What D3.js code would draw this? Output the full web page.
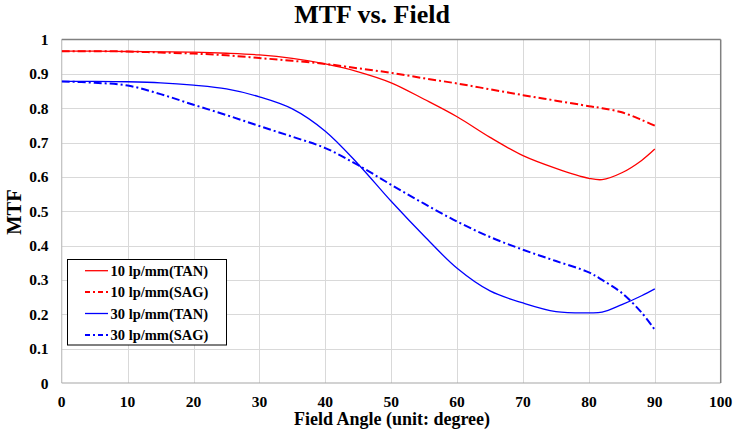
<!DOCTYPE html>
<html>
<head>
<meta charset="utf-8">
<script src="https://cdn.jsdelivr.net/npm/d3@7"></script>
<style>
  html, body { margin: 0; padding: 0; background: #fff; }
  svg { display: block; font-family: "Liberation Serif", "Times New Roman", serif; font-weight: bold; }
</style>
</head>
<body>
<svg id="chart" width="736" height="431"></svg>
<script>
const angles = [0,5,10,15,20,25,30,35,40,45,50,55,60,65,70,75,80,82,85,88,90];
const tan10 = [0.966,0.966,0.965,0.964,0.963,0.960,0.955,0.945,0.929,0.906,0.874,0.826,0.775,0.715,0.662,0.625,0.596,0.592,0.612,0.648,0.681];
const sag10 = [0.966,0.966,0.965,0.962,0.959,0.954,0.946,0.938,0.929,0.916,0.903,0.887,0.872,0.855,0.838,0.822,0.806,0.800,0.788,0.766,0.749];
const tan30 = [0.878,0.878,0.877,0.874,0.867,0.856,0.833,0.798,0.733,0.637,0.529,0.428,0.334,0.268,0.233,0.208,0.204,0.206,0.228,0.254,0.274];
const sag30 = [0.878,0.874,0.866,0.841,0.810,0.780,0.748,0.717,0.684,0.634,0.577,0.522,0.470,0.425,0.388,0.355,0.322,0.300,0.262,0.205,0.155];
const seriesNames = ["10 lp/mm(TAN)", "10 lp/mm(SAG)", "30 lp/mm(TAN)", "30 lp/mm(SAG)"];
const xTicks = [0,10,20,30,40,50,60,70,80,90,100];
const yTicks = [0,0.1,0.2,0.3,0.4,0.5,0.6,0.7,0.8,0.9,1];
const titleText = "MTF vs. Field";
const xTitle = "Field Angle (unit: degree)";
const yTitle = "MTF";

const svg = d3.select("#chart");
const L = 61.7, R = 720.7, T = 39.5, B = 383;
const x = d3.scaleLinear().domain([0,100]).range([L,R]);
const y = d3.scaleLinear().domain([0,1]).range([B,T]);

// gridlines
svg.append("g").selectAll("line").data(xTicks.slice(1, -1)).join("line")
  .attr("x1", d => Math.round(x(d)) + 0.5).attr("x2", d => Math.round(x(d)) + 0.5)
  .attr("y1", T).attr("y2", B)
  .attr("stroke", "#d9d9d9").attr("stroke-width", 1);
svg.append("g").selectAll("line").data(yTicks.slice(1, -1)).join("line")
  .attr("x1", L).attr("x2", R)
  .attr("y1", d => Math.round(y(d)) + 0.5).attr("y2", d => Math.round(y(d)) + 0.5)
  .attr("stroke", "#d9d9d9").attr("stroke-width", 1);

// axes frame
svg.append("line").attr("x1", L).attr("x2", L).attr("y1", T).attr("y2", B).attr("stroke", "#bfbfbf").attr("stroke-width", 1.2);
svg.append("line").attr("x1", L).attr("x2", R).attr("y1", B).attr("y2", B).attr("stroke", "#a6a6a6").attr("stroke-width", 1.2);
svg.append("line").attr("x1", L).attr("x2", R).attr("y1", T).attr("y2", T).attr("stroke", "#808080").attr("stroke-width", 1.5);
svg.append("line").attr("x1", R).attr("x2", R).attr("y1", T).attr("y2", B).attr("stroke", "#808080").attr("stroke-width", 1.5);

// tick labels
svg.append("g").selectAll("text").data(xTicks).join("text")
  .attr("x", d => x(d)).attr("y", 407)
  .attr("text-anchor", "middle").attr("font-size", 15.5).attr("fill", "#000")
  .text(d => d);
svg.append("g").selectAll("text").data(yTicks).join("text")
  .attr("x", 48.5).attr("y", d => y(d) + 5.5)
  .attr("text-anchor", "end").attr("font-size", 15.5).attr("fill", "#000")
  .text(d => d);

// titles
svg.append("text").attr("x", 372).attr("y", 23).attr("text-anchor", "middle")
  .attr("font-size", 26).text(titleText);
svg.append("text").attr("x", 392).attr("y", 425).attr("text-anchor", "middle")
  .attr("font-size", 18).text(xTitle);
svg.append("text").attr("transform", "translate(21,212) rotate(-90)").attr("text-anchor", "middle")
  .attr("font-size", 20.5).text(yTitle);

// series
const styles = [
  {values: tan10, color: "#ff0000", dash: null, w: 1.3},
  {values: sag10, color: "#ff0000", dash: "8,3,2,3", w: 2},
  {values: tan30, color: "#0000ff", dash: null, w: 1.3},
  {values: sag30, color: "#0000ff", dash: "8,3,2,3", w: 2}
];
const line = d3.line().x(d => x(d[0])).y(d => y(d[1])).curve(d3.curveCatmullRom.alpha(0.5));
svg.append("clipPath").attr("id", "pc").append("rect")
  .attr("x", L).attr("y", T).attr("width", R - L).attr("height", B - T);
styles.forEach(s => {
  svg.append("path")
    .datum(angles.map((a, i) => [a, s.values[i]]))
    .attr("d", line)
    .attr("fill", "none")
    .attr("stroke", s.color)
    .attr("stroke-width", s.w)
    .attr("stroke-dasharray", s.dash)
    .attr("clip-path", "url(#pc)");
});

// legend
const lg = svg.append("g");
lg.append("rect").attr("x", 67.5).attr("y", 259.5).attr("width", 159).attr("height", 85.5)
  .attr("fill", "#fff").attr("stroke", "#000").attr("stroke-width", 1);
const rowY = [270.7, 292, 313.5, 335];
seriesNames.forEach((name, i) => {
  lg.append("line").attr("x1", 85).attr("x2", 108).attr("y1", rowY[i]).attr("y2", rowY[i])
    .attr("stroke", styles[i].color).attr("stroke-width", styles[i].w)
    .attr("stroke-dasharray", styles[i].dash ? "5,3,2,3" : null);
  lg.append("text").attr("x", 110.5).attr("y", rowY[i] + 5)
    .attr("font-size", 14.5).text(name);
});
</script>
</body>
</html>
